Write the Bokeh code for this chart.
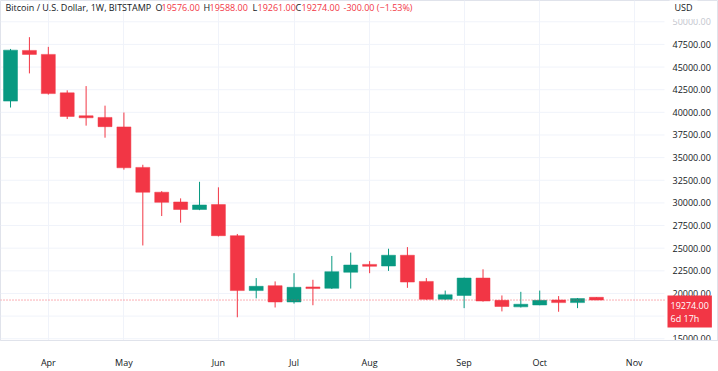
from bokeh.plotting import figure
from bokeh.models import ColumnDataSource, FixedTicker, Label
from bokeh.embed import file_html
from bokeh.resources import INLINE

# weekly candles (BTC/USD, Bitstamp, 1W), weeks starting Monday
weeks = ["2022-03-21", "2022-03-28", "2022-04-04", "2022-04-11", "2022-04-18", "2022-04-25",
         "2022-05-02", "2022-05-09", "2022-05-16", "2022-05-23", "2022-05-30", "2022-06-06",
         "2022-06-13", "2022-06-20", "2022-06-27", "2022-07-04", "2022-07-11", "2022-07-18",
         "2022-07-25", "2022-08-01", "2022-08-08", "2022-08-15", "2022-08-22", "2022-08-29",
         "2022-09-05", "2022-09-12", "2022-09-19", "2022-09-26", "2022-10-03", "2022-10-10",
         "2022-10-17", "2022-10-24"]
opens = [41240, 46840, 46400, 42150, 39620, 39440, 38390, 33920, 31180, 30100, 29270, 29810,
         26380, 20320, 20860, 19060, 20720, 20570, 22340, 23210, 23030, 24220, 21330, 19350,
         19780, 21700, 19240, 18520, 18730, 19280, 18990, 19576]
highs = [47000, 48300, 47230, 42430, 42900, 40740, 39980, 34210, 31300, 30500, 32330, 31720,
         26570, 21700, 21330, 22240, 21510, 24140, 24510, 23570, 24940, 25120, 21700, 20320,
         21750, 22670, 19780, 20180, 20320, 19710, 19500, 19588]
lows = [40530, 44300, 41960, 39260, 38530, 37200, 33670, 25300, 28550, 27820, 29200, 26300,
        17370, 19460, 18450, 18880, 18700, 20500, 20540, 22240, 22490, 20620, 19300, 19300,
        18380, 19100, 18020, 18450, 18700, 17980, 18380, 19261]
closes = [46870, 46400, 42070, 39550, 39400, 38420, 33880, 31180, 30060, 29270, 29770, 26380,
          20320, 20790, 19060, 20680, 20540, 22410, 23140, 23000, 24220, 21260, 19350, 19860,
          21700, 19170, 18560, 18810, 19240, 18990, 19430, 19274]

month_ticks = [2, 6, 11, 15, 19, 24, 28, 33]
month_labels = ["Apr", "May", "Jun", "Jul", "Aug", "Sep", "Oct", "Nov"]
price_ticks = [15000, 17500, 20000, 22500, 25000, 27500, 30000, 32500, 35000,
               37500, 40000, 42500, 45000, 47500]
faded_tick = 50000

last_price = 19274
header_title = "Bitcoin / U.S. Dollar, 1W, BITSTAMP"
hdr_o, hdr_h, hdr_l, hdr_c = "19576.00", "19588.00", "19261.00", "19274.00"
hdr_chg = "-300.00 (\u22121.53%)"
countdown = "6d 17h"

UP = "#089981"
DOWN = "#F23645"
TXT = "#131722"
GRID = "#f0f3fa"
FONT = "Open Sans"

# layout of the chart pane (in bar units): bars area then price scale area
X0 = -0.53          # left edge of the pane
BAR_PX = 18.9       # pixels per weekly bar
W, H_FRAME = 718, 347
X_END = X0 + W / BAR_PX            # right edge of the canvas
X_PANE_END = X0 + 664 / BAR_PX     # end of the bars pane
X_SCALE_TXT = X0 + 672 / BAR_PX    # price scale labels

idx = list(range(len(weeks)))
colors = [UP if c >= o else DOWN for o, c in zip(opens, closes)]
src = ColumnDataSource(dict(
    x=idx, open=opens, high=highs, low=lows, close=closes,
    top=[max(o, c) for o, c in zip(opens, closes)],
    bottom=[min(o, c) for o, c in zip(opens, closes)],
    color=colors,
))

p = figure(width=W, height=371, output_backend="svg", toolbar_location=None,
           x_range=(X0, X_END), y_range=(14806, 52350),
           min_border_left=0, min_border_top=0, min_border_right=0, min_border_bottom=24,
           x_axis_location="below", y_axis_location=None)
p.styles = {"position": "absolute", "left": "0px", "top": "0px"}
p.background_fill_color = "white"
p.border_fill_color = "white"
p.outline_line_color = "#e0e3eb"

# grids
p.xgrid.ticker = FixedTicker(ticks=month_ticks)
p.xgrid.grid_line_color = GRID
p.ygrid.grid_line_color = None
grid_vals = price_ticks + [faded_tick]
p.segment(x0=[X0] * len(grid_vals), x1=[X_PANE_END] * len(grid_vals),
          y0=grid_vals, y1=grid_vals, line_color=GRID, line_width=1)

# time axis
xa = p.xaxis[0]
xa.ticker = FixedTicker(ticks=month_ticks)
xa.major_label_overrides = {t: l for t, l in zip(month_ticks, month_labels)}
xa.axis_line_color = "#e0e3eb"
xa.major_tick_line_color = None
xa.minor_tick_line_color = None
xa.major_label_standoff = 9
xa.major_label_text_font = FONT
xa.major_label_text_font_size = "9px"
xa.major_label_text_color = TXT

# price scale labels
p.text(x=[X_SCALE_TXT] * len(price_ticks), y=price_ticks,
       text=[f"{t:.2f}" for t in price_ticks], text_font={"value": FONT},
       text_font_size="9px", text_color=TXT, text_baseline="middle", text_align="left")
p.text(x=[X_SCALE_TXT], y=[faded_tick], text=[f"{faded_tick:.2f}"], text_font={"value": FONT},
       text_font_size="9px", text_color="#c3c6ce", text_baseline="middle", text_align="left")

# candles
p.segment(x0="x", y0="low", x1="x", y1="high", line_color="color", line_width=1, source=src)
p.vbar(x="x", width=0.74, top="top", bottom="bottom", fill_color="color",
       line_color="color", line_width=0.5, source=src)

# last price line
p.segment(x0=[X0], x1=[X_PANE_END], y0=[last_price], y1=[last_price], line_color=DOWN,
          line_dash="1 2", line_width=1, line_alpha=0.8)

# header
def hdr(x, text, color):
    p.add_layout(Label(x=x, y=H_FRAME - 14, x_units="screen", y_units="screen", text=text,
                       text_font=FONT, text_font_size="9px", text_color=color,
                       text_baseline="middle", level="overlay"))

hdr(5, header_title, TXT)
hdr(155, "O", TXT); hdr(161, hdr_o, DOWN)
hdr(203, "H", TXT); hdr(209, hdr_h, DOWN)
hdr(252, "L", TXT); hdr(257, hdr_l, DOWN)
hdr(295, "C", TXT); hdr(301, hdr_c, DOWN)
hdr(343, hdr_chg, DOWN)

# USD caption on the price scale (partly hides the faded top label)
p.add_layout(Label(x=669, y=H_FRAME - 14, x_units="screen", y_units="screen", text="USD",
                   text_font=FONT, text_font_size="9px", text_color=TXT,
                   text_baseline="middle", level="overlay",
                   background_fill_color="white", padding=5))

# last price tag
p.add_layout(Label(x=667, y=H_FRAME - 302, x_units="screen", y_units="screen",
                   text=f"{last_price:.2f}\n{countdown}", text_font=FONT,
                   text_font_size="9px", text_color="white", text_baseline="top",
                   text_line_height=1.0,
                   background_fill_color=DOWN, padding=3, level="overlay"))

open("out.html", "w").write(file_html(p, INLINE))
